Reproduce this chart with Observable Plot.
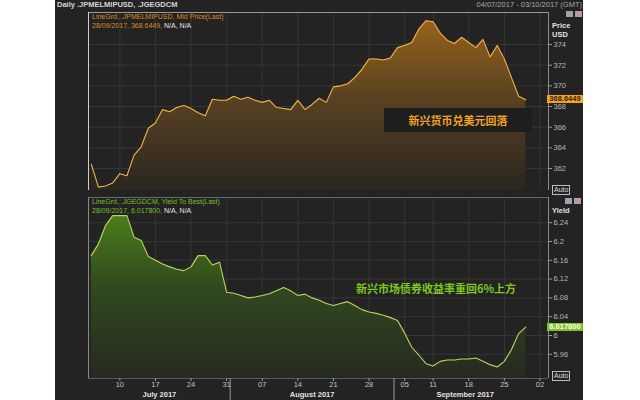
<!DOCTYPE html>
<html><head><meta charset="utf-8">
<script src="https://cdn.jsdelivr.net/npm/d3@7"></script>
<script src="https://cdn.jsdelivr.net/npm/@observablehq/plot@0.6"></script>
<style>
html,body{margin:0;padding:0;background:#fff;width:640px;height:400px;overflow:hidden;font-family:"Liberation Sans",Arial,sans-serif;}
#panel{position:absolute;left:55px;top:0;width:528px;height:400px;background:#232323;}
.abs{position:absolute;white-space:nowrap;}
.leg{font-size:7px;line-height:9px;}
.cjk{font-family:"Noto Sans CJK SC",sans-serif;font-weight:bold;}
.icon{position:absolute;width:7px;height:6px;}
.auto{position:absolute;font-size:7px;line-height:8px;color:#ddd;border:1px solid #bbb;padding:0 1px;}
.tag{position:absolute;left:547px;width:36px;height:8px;font-size:7.5px;line-height:8px;font-weight:bold;text-align:center;}
</style></head><body>
<div id="panel"></div>
<div id="top" class="abs" style="left:0;top:0"></div>
<div id="bot" class="abs" style="left:0;top:197px"></div>
<script>
// ---- data ----
const days = [
 "2017-07-04","2017-07-05","2017-07-06","2017-07-07","2017-07-10","2017-07-11","2017-07-12","2017-07-13","2017-07-14",
 "2017-07-17","2017-07-18","2017-07-19","2017-07-20","2017-07-21","2017-07-24","2017-07-25","2017-07-26","2017-07-27","2017-07-28",
 "2017-07-31","2017-08-01","2017-08-02","2017-08-03","2017-08-04","2017-08-07","2017-08-08","2017-08-09","2017-08-10","2017-08-11",
 "2017-08-14","2017-08-15","2017-08-16","2017-08-17","2017-08-18","2017-08-21","2017-08-22","2017-08-23","2017-08-24","2017-08-25",
 "2017-08-28","2017-08-29","2017-08-30","2017-08-31","2017-09-01","2017-09-05","2017-09-06","2017-09-07","2017-09-08",
 "2017-09-11","2017-09-12","2017-09-13","2017-09-14","2017-09-15","2017-09-18","2017-09-19","2017-09-20","2017-09-21","2017-09-22",
 "2017-09-25","2017-09-26","2017-09-27","2017-09-28","2017-09-29","2017-10-02","2017-10-03"
];
const price = [
 362.4,360.2,360.3,360.6,361.5,361.3,363.3,364.1,365.9,366.4,
 367.7,367.5,367.9,368.1,367.8,367.4,367.1,368.7,368.6,368.6,
 369.0,368.7,368.9,368.6,368.4,368.6,367.9,367.8,367.7,368.6,
 367.7,368.2,368.8,368.4,369.9,370.0,370.2,370.8,371.6,372.6,
 372.6,372.5,372.7,373.7,373.9,374.2,375.5,376.3,376.2,375.1,
 374.4,374.1,374.7,374.2,373.7,374.5,372.8,373.9,372.6,370.8,
 369.0,368.6449
];
const yields = [
 6.170,6.195,6.234,6.255,6.255,6.255,6.209,6.202,6.168,6.160,
 6.152,6.146,6.141,6.138,6.146,6.170,6.170,6.150,6.156,6.092,
 6.090,6.085,6.080,6.082,6.085,6.089,6.095,6.102,6.095,6.085,
 6.088,6.080,6.075,6.068,6.064,6.068,6.072,6.064,6.055,6.050,
 6.047,6.043,6.038,6.032,6.005,5.975,5.958,5.940,5.935,5.945,
 5.948,5.948,5.950,5.950,5.952,5.945,5.938,5.933,5.945,5.970,
 6.004,6.0178
];
const tickDays = ["2017-07-10","2017-07-17","2017-07-24","2017-07-31","2017-08-07","2017-08-14","2017-08-21","2017-08-28","2017-09-05","2017-09-11","2017-09-18","2017-09-25","2017-10-02"];
const tickLabels = ["10","17","24","31","07","14","21","28","05","11","18","25","02"];
const monthKeys = ["2017-07","2017-08","2017-09"];
const monthLabels = ["July 2017","August 2017","September 2017"];
const priceTicks = [362,364,366,368,370,372,374];
const yieldTicks = [5.96,6.00,6.04,6.08,6.12,6.16,6.20,6.24];
const priceLast = "368.6449", yieldLast = "6.017800";
const noteFx = "新兴货币兑美元回落";
const noteBond = "新兴市场债券收益率重回6%上方";

// ---- derived ----
const xDom = [-0.4, days.length - 0.8];
const pData = price.map((v, i) => ({i, v}));
const yData = yields.map((v, i) => ({i, v}));
const tickIdx = tickDays.map(d => days.indexOf(d));
const tickFmt = new Map(tickIdx.map((t, k) => [t, tickLabels[k]]));
const months = monthKeys.map((m, k) => {
  const idx = days.map((d, i) => d.startsWith(m) ? i : -1).filter(i => i >= 0);
  const a = Math.max(idx[0] - 0.5, xDom[0]), b = Math.min(idx[idx.length - 1] + 0.5, xDom[1]);
  return {c: (a + b) / 2, label: monthLabels[k], start: idx[0] - 0.5};
});
const seps = months.slice(1).map(m => m.start);
const pDom = [359.87, 377.1];
const yDom = [5.9085, 6.2936];
const grid = "#363636";
const font = {fontFamily: "'Liberation Sans', Arial, sans-serif", fontSize: "7.5px", background: "transparent", color: "#b8b8b8"};

const topPlot = Plot.plot({
  width: 640, height: 197, marginLeft: 88, marginRight: 92, marginTop: 12, marginBottom: 7,
  style: font,
  x: {domain: xDom, axis: null},
  y: {domain: pDom, axis: null},
  marks: [
    Plot.gridX(tickIdx, {stroke: grid, strokeOpacity: 1}),
    Plot.gridY(priceTicks, {stroke: grid, strokeOpacity: 1}),
    Plot.areaY(pData, {x: "i", y1: pDom[0], y2: "v", fill: "url(#gP)"}),
    Plot.lineY(pData, {x: "i", y: "v", stroke: "#f0b04a", strokeWidth: 1.1}),
    Plot.ruleY([pDom[1]], {stroke: "#9a9a9a"}),
    Plot.ruleX([xDom[0]], {stroke: "#cfcfcf"}),
    Plot.ruleX([xDom[1]], {stroke: "#8c8c8c"}),
    Plot.axisY(priceTicks, {anchor: "right", tickSize: 3, tickPadding: 2, label: null, stroke: "#9a9a9a", fill: "#b8b8b8"})
  ]
});
d3.select(topPlot).insert("defs", ":first-child").html(
  '<linearGradient id="gP" x1="0" y1="0" x2="0" y2="1">' +
  '<stop offset="0" stop-color="#96621b"/><stop offset="0.45" stop-color="#5a4221"/><stop offset="1" stop-color="#2a2621"/></linearGradient>');
document.getElementById("top").appendChild(topPlot);

const botPlot = Plot.plot({
  width: 640, height: 203, marginLeft: 88, marginRight: 92, marginTop: 0, marginBottom: 22,
  style: font,
  x: {domain: xDom, axis: null},
  y: {domain: yDom, axis: null},
  marks: [
    Plot.gridX(tickIdx, {stroke: grid, strokeOpacity: 1}),
    Plot.gridY(yieldTicks, {stroke: grid, strokeOpacity: 1}),
    Plot.areaY(yData, {x: "i", y1: yDom[0], y2: "v", fill: "url(#gY)"}),
    Plot.lineY(yData, {x: "i", y: "v", stroke: "#b9d45e", strokeWidth: 1.1}),
    Plot.ruleY([yDom[1]], {stroke: "#6a6a6a"}),
    Plot.ruleY([yDom[0]], {stroke: "#5a5a5a"}),
    Plot.ruleX([xDom[0]], {stroke: "#8a8a8a"}),
    Plot.ruleX([xDom[1]], {stroke: "#8c8c8c"}),
    Plot.axisY(yieldTicks, {anchor: "right", tickSize: 3, tickPadding: 2, label: null, stroke: "#9a9a9a", fill: "#b8b8b8", tickFormat: v => String(+v.toFixed(2))}),
    Plot.axisX(tickIdx, {tickSize: 3, tickPadding: 0, label: null, stroke: "#9a9a9a", fill: "#c4c4c4", tickFormat: i => tickFmt.get(i)}),
    Plot.axisX(seps, {tickSize: 22, label: null, stroke: "#9a9a9a", tickFormat: () => ""}),
    Plot.text(months, {x: "c", text: "label", frameAnchor: "bottom", lineAnchor: "middle", dy: 16.5, fill: "#e2e2e2", fontWeight: "bold", fontSize: 7.5})
  ]
});
d3.select(botPlot).insert("defs", ":first-child").html(
  '<linearGradient id="gY" x1="0" y1="0" x2="0" y2="1">' +
  '<stop offset="0" stop-color="#4a7d1a"/><stop offset="0.45" stop-color="#30481f"/><stop offset="1" stop-color="#262a21"/></linearGradient>');
document.getElementById("bot").appendChild(botPlot);

// ---- html overlays ----
function add(html, style, cls) {
  const d = document.createElement("div");
  d.className = cls || "abs";
  d.innerHTML = html;
  Object.assign(d.style, style);
  document.body.appendChild(d);
  return d;
}
add("Daily .JPMELMIPUSD, .JGEGDCM", {left: "57px", top: "0px", fontSize: "7.5px", fontWeight: "bold", color: "#d6d6d6"});
add("04/07/2017 - 03/10/2017 (GMT)", {right: "58px", top: "0px", fontSize: "7.5px", color: "#a8a8a8"});
add('LineGrd, .JPMELMIPUSD, Mid Price(Last)<br>28/09/2017, 368.6449, <span style="color:#e6e6e6">N/A, N/A</span>',
  {left: "92px", top: "12px", color: "#d88f22"}, "abs leg");
add('LineGrd, .JGEGDCM, Yield To Best(Last)<br>28/09/2017, 6.017800, <span style="color:#e6e6e6">N/A, N/A</span>',
  {left: "92px", top: "197px", color: "#78c02a"}, "abs leg");
add("Price<br>USD", {left: "552px", top: "21px", fontSize: "7.5px", lineHeight: "9px", fontWeight: "bold", color: "#e0e0e0"});
add("Yield", {left: "552px", top: "206px", fontSize: "7.5px", fontWeight: "bold", color: "#e0e0e0"});
add("", {left: "566px", top: "11px", background: "#9aa4b0"}, "icon");
add("", {left: "575px", top: "11px", background: "#b89aa4"}, "icon");
add("", {left: "565px", top: "198px", background: "#9aa4b0"}, "icon");
add("", {left: "574px", top: "198px", background: "#b89aa4"}, "icon");
add("Auto", {left: "552px", top: "185px"}, "auto");
add("Auto", {left: "552px", top: "371px"}, "auto");
const py = topPlot.scale("y").apply(price[price.length - 1]);
add(priceLast, {top: (py - 4) + "px", background: "#f0a22a", color: "#3a1d00"}, "tag");
const yy = 197 + botPlot.scale("y").apply(yields[yields.length - 1]);
add(yieldLast, {top: (yy - 4) + "px", background: "#7cc51e", color: "#ffffff"}, "tag");
add(noteFx, {left: "384px", top: "108px", width: "148px", height: "24px", lineHeight: "24px", textAlign: "center",
  background: "#1e1e1e", color: "#f2a21e", fontSize: "11px"}, "abs cjk");
add(noteBond, {left: "356px", top: "280px", height: "16px", lineHeight: "16px", color: "#7ec81e", fontSize: "11px"}, "abs cjk");
</script>
</body></html>
